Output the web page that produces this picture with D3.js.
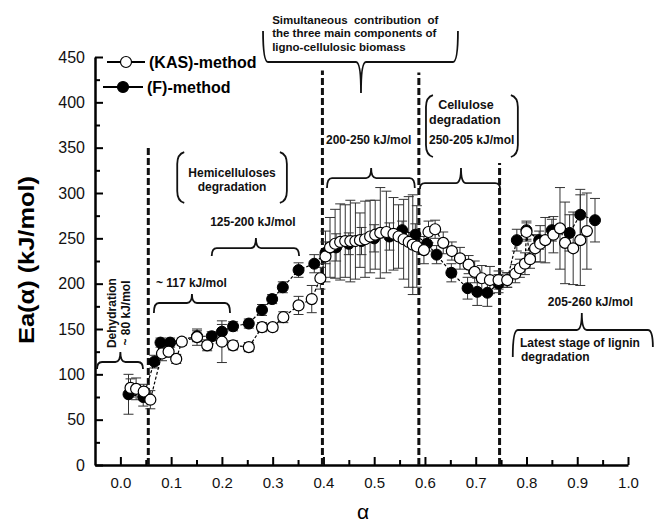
<!DOCTYPE html>
<html lang="en">
<head>
<meta charset="UTF-8">
<title>Ea(alpha) - KAS and F methods</title>
<script src="https://d3js.org/d3.v7.min.js"></script>
<style>
    body { margin: 0; background: #fff; }
    svg { display: block; font-family: "Liberation Sans", Arial, sans-serif; }
    .axis path, .axis line { stroke: #000; }
    .axis text { fill: #111; }
    .note { font-weight: bold; font-size: 12px; fill: #111; }
</style>
</head>
<body>
<svg id="chart" width="654" height="523"></svg>
<script>
// ---- data ----
const kasAlpha = [0.020, 0.031, 0.046, 0.059, 0.082, 0.095, 0.110, 0.121, 0.151, 0.171, 0.200, 0.222, 0.253,
    0.279, 0.300, 0.321, 0.351, 0.377, 0.394, 0.404, 0.413, 0.423, 0.433, 0.443, 0.453, 0.463, 0.472, 0.482,
    0.492, 0.502, 0.512, 0.524, 0.538, 0.548, 0.558, 0.568, 0.576, 0.584, 0.598, 0.607, 0.620, 0.636, 0.653,
    0.669, 0.686, 0.698, 0.712, 0.728, 0.745, 0.762, 0.778, 0.787, 0.797, 0.800, 0.807, 0.817, 0.827, 0.837,
    0.853, 0.866, 0.876, 0.892, 0.906, 0.919];
const kasEa = [85, 84, 81, 72, 123, 125, 117, 136, 141, 132, 136, 132, 130,
    152, 152, 163, 176, 183, 206, 230, 240, 244, 246, 247, 247, 247, 248, 249,
    252, 254, 256, 257, 255, 252, 249, 246, 243, 241, 237, 257, 260, 245, 236,
    228, 221, 213, 206, 204, 204, 204, 211, 217, 222, 257, 227, 239, 244, 248,
    254, 261, 245, 239, 248, 258];
const kasErr = [10, 12, 8, 10, 8, 6, 5, 4, 9, 6, 23, 5, 5,
    5, 4, 6, 10, 15, 12, 28, 33, 38, 42, 40, 45, 42, 30, 42,
    40, 38, 50, 45, 40, 35, 44, 50, 55, 45, 15, 12, 10, 12, 10,
    12, 10, 12, 14, 15, 10, 8, 10, 10, 12, 10, 10, 15, 20, 25,
    20, 45, 45, 40, 50, 42];

const fAlpha = [0.016, 0.045, 0.067, 0.079, 0.098, 0.151, 0.180, 0.200, 0.222, 0.253, 0.279, 0.299, 0.320,
    0.351, 0.382, 0.404, 0.425, 0.450, 0.475, 0.500, 0.530, 0.555, 0.581, 0.604, 0.623, 0.652, 0.684,
    0.703, 0.723, 0.745, 0.762, 0.781, 0.800, 0.825, 0.850, 0.885, 0.906, 0.935];
const fEa = [78, 75, 114, 135, 135, 142, 142, 147, 153, 156, 171, 183, 196,
    215, 222, 234, 240, 244, 247, 250, 252, 259, 254, 244, 232, 212, 195,
    191, 190, 200, 204, 248, 259, 248, 259, 256, 276, 270];
const fErr = [22, 10, 7, 5, 5, 6, 5, 8, 5, 5, 6, 5, 6,
    8, 10, 12, 15, 12, 15, 15, 15, 10, 12, 8, 10, 10, 12,
    15, 15, 10, 8, 12, 10, 10, 12, 20, 28, 24];

const yTicks = [0, 50, 100, 150, 200, 250, 300, 350, 400, 450];
const yMinor = [25, 75, 125, 175, 225, 275, 325, 375, 425];
const xTicks = [0.0, 0.1, 0.2, 0.3, 0.4, 0.5, 0.6, 0.7, 0.8, 0.9, 1.0];
const xMinor = [0.05, 0.15, 0.25, 0.35, 0.45, 0.55, 0.65, 0.75, 0.85, 0.95];

// stage boundaries (alpha) and how high each dashed line reaches (kJ/mol)
const stageAlpha = [0.055, 0.398, 0.588, 0.747];
const stageTop = [352, 435, 433, 333];

// ---- setup ----
const svg = d3.select("#chart");
const x = d3.scaleLinear().domain([-0.05, 1.0]).range([95, 628]);
const y = d3.scaleLinear().domain([0, 450]).range([465, 57]);

svg.append("rect").attr("width", 654).attr("height", 523).attr("fill", "#fff");

// axes
const yAxis = svg.append("g").attr("class", "axis").attr("transform", `translate(${x(-0.05)},0)`)
    .call(d3.axisLeft(y).tickValues(yTicks).tickSizeInner(-8).tickSizeOuter(0).tickPadding(10));
svg.append("g").attr("class", "axis").attr("transform", `translate(${x(-0.05)},0)`)
    .call(d3.axisLeft(y).tickValues(yMinor).tickSizeInner(-5).tickSizeOuter(0).tickFormat(""))
    .select(".domain").remove();
yAxis.selectAll("text").style("font-size", "16px");

const xAxis = svg.append("g").attr("class", "axis").attr("transform", `translate(0,${y(0)})`)
    .call(d3.axisBottom(x).tickValues(xTicks).tickSizeInner(-8).tickSizeOuter(0).tickPadding(12).tickFormat(d3.format(".1f")));
svg.append("g").attr("class", "axis").attr("transform", `translate(0,${y(0)})`)
    .call(d3.axisBottom(x).tickValues(xMinor).tickSizeInner(-5).tickSizeOuter(0).tickFormat(""))
    .select(".domain").remove();
xAxis.selectAll("text").style("font-size", "15px");
svg.selectAll(".axis .domain").attr("stroke-width", 2.5);
svg.selectAll(".axis line").attr("stroke-width", 2);

// axis titles
svg.append("text")
    .attr("transform", `translate(34,260) rotate(-90)`)
    .attr("text-anchor", "middle")
    .attr("textLength", 168).attr("lengthAdjust", "spacingAndGlyphs")
    .style("font-size", "22px").style("font-weight", "bold")
    .text("Ea(α) (kJ/mol)");
svg.append("text")
    .attr("x", 363).attr("y", 519)
    .attr("text-anchor", "middle")
    .style("font-size", "21px")
    .text("α");

// dashed stage lines
svg.append("g").selectAll("line").data(stageAlpha).join("line")
    .attr("x1", d => x(d)).attr("x2", d => x(d))
    .attr("y1", y(0)).attr("y2", (d, i) => y(stageTop[i]))
    .attr("stroke", "#111").attr("stroke-width", 3).attr("stroke-dasharray", "7,3");

// ---- annotations ----
function brace(a1, a2, e, tipA, tipLen, end1, end2) {
    const x1 = x(a1), x2 = x(a2), yy = y(e), tx = x(tipA), r = 5;
    return `M${x1},${yy + end1} Q${x1},${yy} ${x1 + r},${yy} L${tx - r},${yy} Q${tx},${yy} ${tx},${yy + tipLen}` +
        ` Q${tx},${yy} ${tx + r},${yy} L${x2 - r},${yy} Q${x2},${yy} ${x2},${yy + end2}`;
}
function paren(a, e1, e2, dir) {
    const xx = x(a), y1 = y(e1), y2 = y(e2), w = 7 * dir;
    return `M${xx + w},${y1} Q${xx},${y1 + 2} ${xx},${y1 + 12} L${xx},${y2 - 12} Q${xx},${y2 - 2} ${xx + w},${y2}`;
}
const ann = svg.append("g").attr("fill", "none").attr("stroke", "#111").attr("stroke-width", 1.8);
ann.append("path").attr("d", brace(-0.046, 0.0446, 113.6, 0.0, -10, 7, 7));
ann.append("path").attr("d", brace(0.066, 0.216, 178.7, 0.141, -9, 10, 10));
ann.append("path").attr("d", brace(0.180, 0.352, 239.3, 0.267, -10, 8, 8));
ann.append("path").attr("d", brace(0.407, 0.580, 316.5, 0.494, -10, 10, 10));
ann.append("path").attr("d", brace(0.590, 0.748, 311.0, 0.671, -15, 6, 6));
ann.append("path").attr("d", brace(0.773, 1.049, 148.9, 0.909, -17, 27, 17));
ann.append("path").attr("d", brace(0.281, 0.665, 444.5, 0.474, 31, -31, -31));
ann.append("path").attr("d", paren(0.112, 345.2, 289.0, 1));
ann.append("path").attr("d", paren(0.328, 345.2, 289.0, -1));
ann.append("path").attr("d", paren(0.602, 408.0, 339.7, 1));
ann.append("path").attr("d", paren(0.783, 408.0, 339.7, -1));

function note(a, e, txt, anchor, size) {
    return svg.append("text").attr("class", "note")
        .attr("x", x(a)).attr("y", y(e))
        .attr("text-anchor", anchor || "start")
        .style("font-size", (size || 12) + "px")
        .attr("xml:space", "preserve")
        .text(txt);
}
note(0.220, 317.6, "Hemicelluloses", "middle");
note(0.220, 302.2, "degradation", "middle");
note(0.261, 263.6, "125-200 kJ/mol", "middle");
note(0.070, 196.3, "~ 117 kJ/mol");
note(0.405, 354.0, "200-250 kJ/mol");
note(0.626, 393.0, "Cellulose", "start", 12.5);
note(0.608, 376.0, "degradation", "start", 12.5);
note(0.608, 354.0, "250-205 kJ/mol");
note(0.299, 486.4, "Simultaneous  contribution  of", "start", 11.5);
note(0.299, 472.0, "the three main components of", "start", 11.5);
note(0.299, 456.6, "ligno-cellulosic biomass", "start", 11.5);
note(0.842, 175.4, "205-260 kJ/mol");
note(0.787, 130.0, "Latest stage of lignin");
note(0.789, 114.7, "degradation");
note(-0.0086, 167.6, "Dehydration", "middle")
    .attr("transform", `rotate(-90,${x(-0.0086)},${y(167.6)})`);
note(0.019, 167.6, "~ 80 kJ/mol", "middle")
    .attr("transform", `rotate(-90,${x(0.019)},${y(167.6)})`);

// ---- series ----
const kas = kasAlpha.map((a, i) => ({a, e: kasEa[i], err: kasErr[i]}));
const fm = fAlpha.map((a, i) => ({a, e: fEa[i], err: fErr[i]}));

function errorBars(data) {
    const g = svg.append("g").attr("stroke", "#333").attr("stroke-width", 1);
    g.selectAll(".v").data(data).join("line")
        .attr("x1", d => x(d.a)).attr("x2", d => x(d.a))
        .attr("y1", d => y(d.e - d.err)).attr("y2", d => y(d.e + d.err));
    [-1, 1].forEach(s => {
        g.selectAll(".c" + s).data(data).join("line")
            .attr("x1", d => x(d.a) - 5).attr("x2", d => x(d.a) + 5)
            .attr("y1", d => y(d.e + s * d.err)).attr("y2", d => y(d.e + s * d.err));
    });
}
errorBars(fm);
errorBars(kas);

const line = d3.line().x(d => x(d.a)).y(d => y(d.e));
svg.append("path").datum(fm).attr("d", line)
    .attr("fill", "none").attr("stroke", "#000").attr("stroke-width", 1.2).attr("stroke-dasharray", "3,2");
svg.append("path").datum(kas).attr("d", line)
    .attr("fill", "none").attr("stroke", "#000").attr("stroke-width", 1.2).attr("stroke-dasharray", "3,2");

svg.append("g").selectAll("circle").data(fm).join("circle")
    .attr("cx", d => x(d.a)).attr("cy", d => y(d.e)).attr("r", 5.5)
    .attr("fill", "#000").attr("stroke", "#000").attr("stroke-width", 1);
svg.append("g").selectAll("circle").data(kas).join("circle")
    .attr("cx", d => x(d.a)).attr("cy", d => y(d.e)).attr("r", 5.5)
    .attr("fill", "#fff").attr("stroke", "#000").attr("stroke-width", 1.2);

// ---- legend ----
const legend = svg.append("g");
[{label: "(KAS)-method", fill: "#fff", x0: 107, x1: 145, yy: 62},
 {label: "(F)-method", fill: "#000", x0: 103, x1: 143, yy: 87}].forEach(item => {
    legend.append("line").attr("x1", item.x0).attr("x2", item.x1).attr("y1", item.yy).attr("y2", item.yy)
        .attr("stroke", "#000").attr("stroke-width", 2);
    legend.append("circle").attr("cx", (item.x0 + item.x1) / 2).attr("cy", item.yy).attr("r", 5.5)
        .attr("fill", item.fill).attr("stroke", "#000").attr("stroke-width", 1.2);
    legend.append("text").attr("x", item.x1 + 4).attr("y", item.yy + 5.5)
        .style("font-size", "16px").style("font-weight", "bold").text(item.label);
});
</script>
</body>
</html>
